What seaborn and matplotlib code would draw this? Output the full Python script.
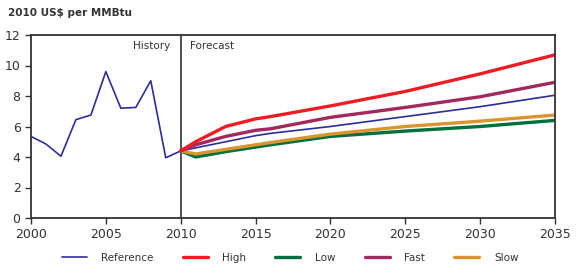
import matplotlib
matplotlib.use("Agg")
import matplotlib.pyplot as plt
import seaborn as sns
import pandas as pd
from matplotlib.lines import Line2D

# Data
hist_years = [2000, 2001, 2002, 2003, 2004, 2005, 2006, 2007, 2008, 2009, 2010]
hist_ref = [5.35, 4.85, 4.05, 6.45, 6.75, 9.6, 7.2, 7.25, 9.0, 3.95, 4.4]

fc_years = [2010, 2011, 2013, 2015, 2016, 2020, 2025, 2030, 2035]
reference = [4.4, 4.6, 5.0, 5.4, 5.55, 6.0, 6.65, 7.3, 8.05]
high = [4.4, 5.0, 6.0, 6.5, 6.65, 7.35, 8.3, 9.45, 10.7]
low = [4.4, 4.0, 4.35, 4.65, 4.8, 5.35, 5.7, 6.0, 6.4]
fast = [4.4, 4.8, 5.35, 5.75, 5.85, 6.6, 7.25, 7.95, 8.9]
slow = [4.4, 4.2, 4.5, 4.8, 4.95, 5.5, 6.0, 6.35, 6.75]

series_names = ["Reference", "High", "Low", "Fast", "Slow"]
colors = {"Reference": "#2B2F96", "High": "#EE1C25", "Low": "#00703C",
          "Fast": "#A3285F", "Slow": "#DA9530"}
widths = {"Reference": 1.2, "High": 2.4, "Low": 2.4, "Fast": 2.4, "Slow": 2.4}

rows = []
for y, v in zip(hist_years, hist_ref):
    rows.append(("Reference", y, v))
for name, vals in zip(series_names, [reference, high, low, fast, slow]):
    for y, v in zip(fc_years, vals):
        if name == "Reference" and y == 2010:
            continue
        rows.append((name, y, v))
df = pd.DataFrame(rows, columns=["series", "year", "value"])

sns.set_style("white")
plt.rcParams["font.family"] = ["DejaVu Sans"]

fig = plt.figure(figsize=(5.8, 2.76), dpi=100)
ax = fig.add_axes([31/580, 1 - 218/276, (555-31)/580, (218-35)/276])

draw_order = ["Low", "Slow", "Reference", "Fast", "High"]
for name in draw_order:
    sub = df[df.series == name]
    sns.lineplot(data=sub, x="year", y="value", ax=ax, color=colors[name],
                 linewidth=widths[name], legend=False, sort=True, estimator=None)

ax.set_xlim(2000, 2035)
ax.set_ylim(0, 12)
ax.set_xticks([2000, 2005, 2010, 2015, 2020, 2025, 2030, 2035])
ax.set_yticks([0, 2, 4, 6, 8, 10, 12])
ax.set_xlabel("")
ax.set_ylabel("")
for s in ax.spines.values():
    s.set_color("#333333")
    s.set_linewidth(1.3)
ax.tick_params(axis="both", direction="out", length=4, width=1, color="#333333",
               labelsize=9, labelcolor="#333333", bottom=True, left=True)
ax.tick_params(axis="x", pad=3)

ax.axvline(2010, color="#333333", linewidth=1.2, zorder=0)
ax.text(2009.3, 11.6, "History", ha="right", va="top", fontsize=7.5, color="#333333")
ax.text(2010.6, 11.6, "Forecast", ha="left", va="top", fontsize=7.5, color="#333333")

fig.text(8/580, 1 - 13/276, "2010 US$ per MMBtu", ha="left", va="center",
         fontsize=7.5, fontweight="bold", color="#333333")

handles = [Line2D([0], [0], color=colors[n], linewidth=widths[n] if n != "Reference" else 1.2)
           for n in series_names]
fig.legend(handles, series_names, loc="center", bbox_to_anchor=(0.5, 1 - 258/276),
           ncol=5, frameon=False, fontsize=7.5, handlelength=2.4, handletextpad=1.4,
           columnspacing=2.8, labelcolor="#333333")

fig.savefig("out.png", dpi=100)
